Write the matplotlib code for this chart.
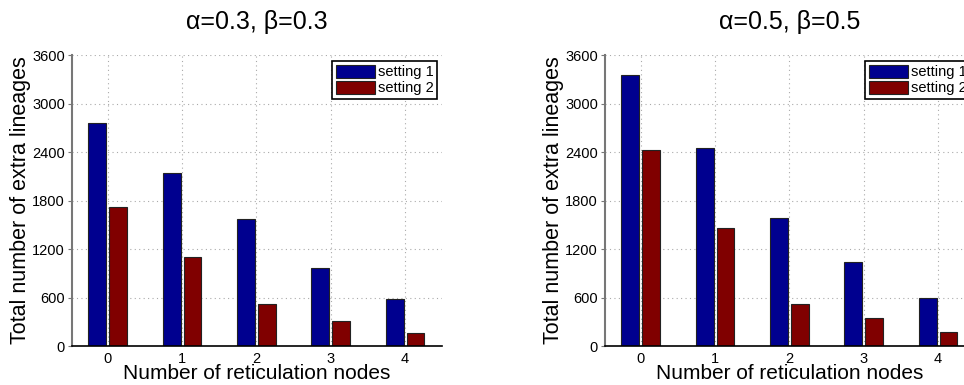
import matplotlib
matplotlib.use("Agg")
import matplotlib.pyplot as plt
import numpy as np

plt.rcParams['font.family'] = ['Liberation Sans', 'DejaVu Sans']

nodes = [0, 1, 2, 3, 4]
titles = ['α=0.3, β=0.3', 'α=0.5, β=0.5']
# setting 1 / setting 2 per panel
left_s1 = [2760, 2140, 1570, 965, 580]
left_s2 = [1718, 1105, 527, 309, 165]
right_s1 = [3357, 2451, 1590, 1038, 597]
right_s2 = [2426, 1466, 527, 346, 173]
yticks = [0, 600, 1200, 1800, 2400, 3000, 3600]

blue = '#00008f'
red = '#800000'

fig = plt.figure(figsize=(9.64, 3.85), dpi=100)
ax1 = fig.add_axes([0.0747, 0.101, 0.384, 0.756])
ax2 = fig.add_axes([0.6276, 0.101, 0.384, 0.756])

x = np.array(nodes)
w = 0.24
for ax, s1, s2, t in [(ax1, left_s1, left_s2, titles[0]), (ax2, right_s1, right_s2, titles[1])]:
    ax.set_axisbelow(True)
    ax.grid(True, color='#aaaaaa', linestyle=(0, (1, 3)), linewidth=0.8)
    ax.bar(x - 0.14, s1, w, color=blue, edgecolor='#222222', linewidth=0.8, label='setting 1')
    ax.bar(x + 0.14, s2, w, color=red, edgecolor='#222222', linewidth=0.8, label='setting 2')
    ax.set_xlim(-0.48, 4.5)
    ax.set_ylim(0, 3600)
    ax.set_xticks(nodes)
    ax.set_yticks(yticks)
    ax.tick_params(axis='x', length=0, labelsize=10.5, pad=4)
    ax.tick_params(axis='y', length=3, direction='out', labelsize=10.5, pad=2, color='#777777')
    for s in ['top', 'right']:
        ax.spines[s].set_visible(False)
    ax.spines['left'].set_color('#777777')
    ax.spines['left'].set_linewidth(1.5)
    ax.spines['bottom'].set_color('black')
    ax.spines['bottom'].set_linewidth(1.2)
    ax.set_xlabel('Number of reticulation nodes', fontsize=15, labelpad=-1)
    ax.set_ylabel('Total number of extra lineages', fontsize=15.5, labelpad=1)
    ax.set_title(t, fontsize=18, pad=19)
    leg = ax.legend(loc='upper right', bbox_to_anchor=(0.995, 0.99), fontsize=10.5,
                    fancybox=False, framealpha=1, edgecolor='black',
                    handlelength=2.7, handleheight=1.0, handletextpad=0.2,
                    labelspacing=0.12, borderpad=0.25, borderaxespad=0.2)
    leg.get_frame().set_linewidth(1.2)

fig.savefig('out.png', dpi=100)
